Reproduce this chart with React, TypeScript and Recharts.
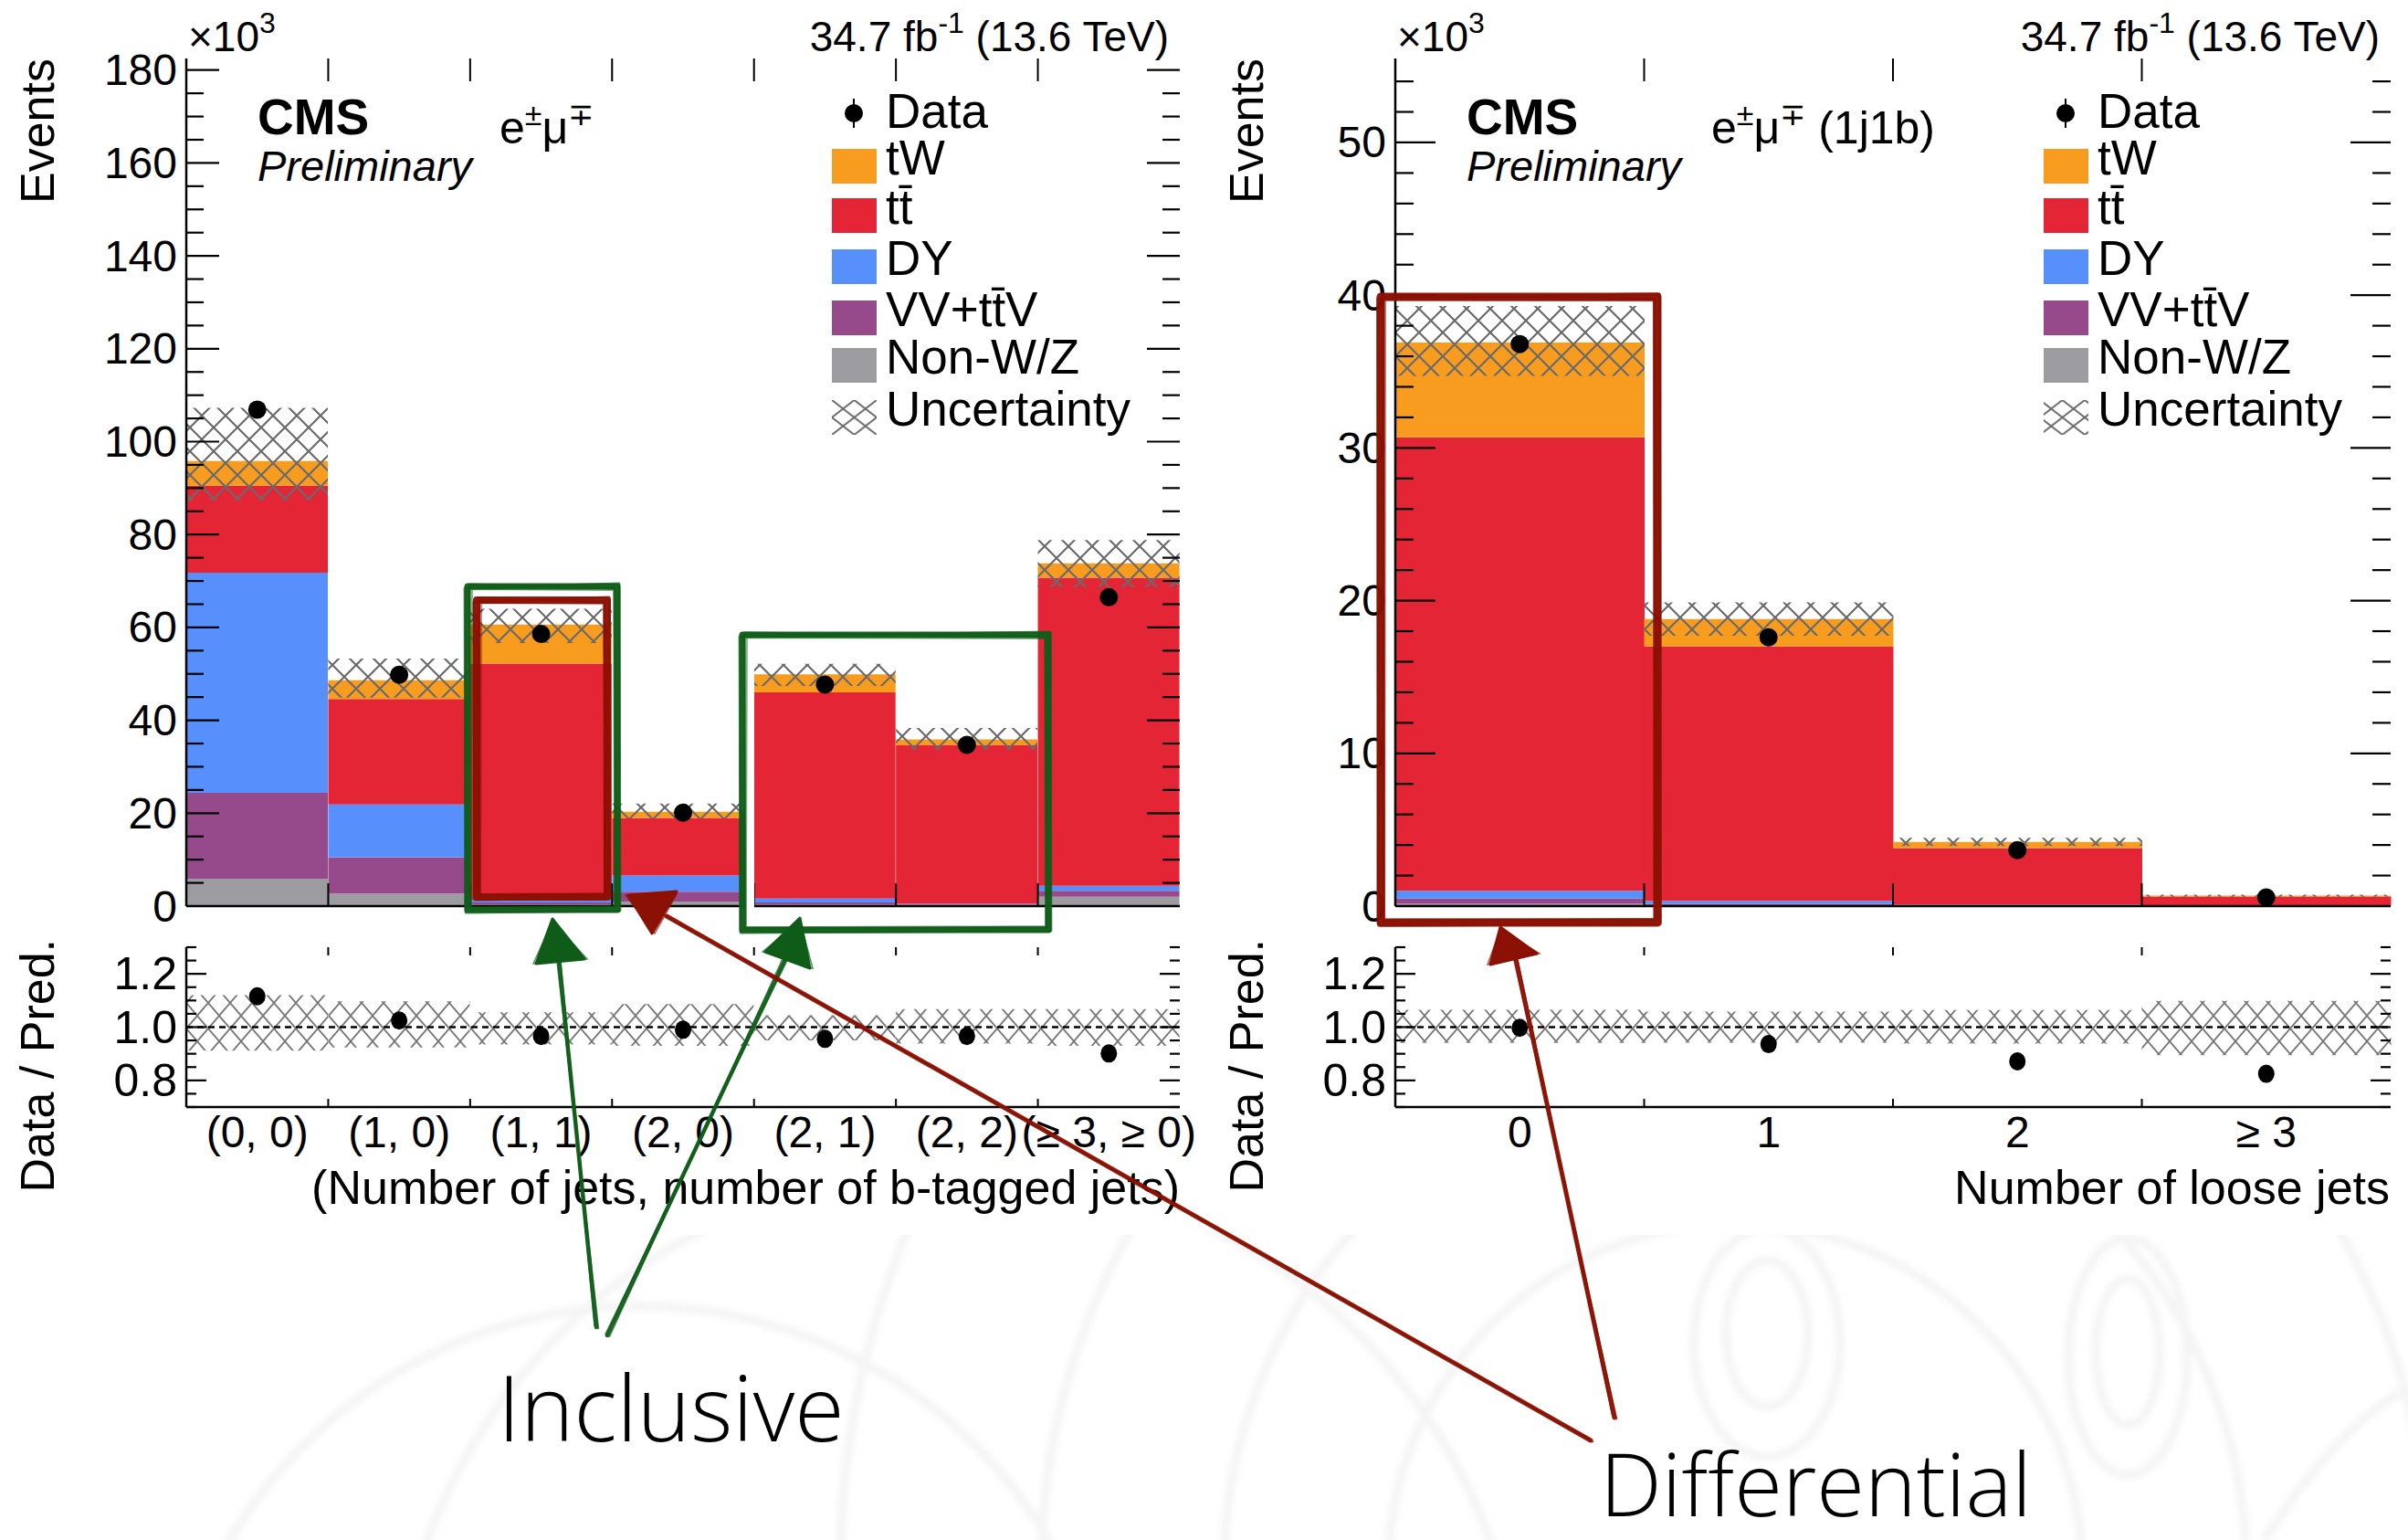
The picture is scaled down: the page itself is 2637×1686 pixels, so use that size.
import React from 'react';
import { ComposedChart, Bar, Scatter, XAxis, YAxis, ReferenceLine } from 'recharts';

const FONT = "'Liberation Sans', Arial, Helvetica, sans-serif";
const SLIDE_FONT = "'Open Sans', Lato, 'Noto Sans', sans-serif";

const C_TW = '#f89c20';
const C_TT = '#e42536';
const C_DY = '#5790fc';
const C_VV = '#964a8b';
const C_NONWZ = '#9c9ca1';
const GREEN = '#0e5c18';
const DARKRED = '#8a1103';

// inclusive: (number of jets, number of b-tagged jets), events in 10^3
const incCategories = ['(0, 0)', '(1, 0)', '(1, 1)', '(2, 0)', '(2, 1)', '(2, 2)', '(≥ 3, ≥ 0)'];
const incNonWZ = [5.9, 2.7, 0.3, 1.0, 0.3, 0.1, 2.0];
const incVV = [18.5, 7.8, 0.5, 2.1, 0.5, 0.2, 1.3];
const incDY = [47.4, 11.4, 0.6, 3.5, 0.8, 0.2, 1.1];
const incTT = [18.7, 22.7, 50.8, 12.4, 44.4, 34.1, 66.3];
const incTW = [5.3, 4.0, 8.4, 1.3, 3.9, 1.3, 3.1];
const incData = [106.9, 49.8, 58.6, 20.1, 47.7, 34.7, 66.5];
const incUncUp = [0.12, 0.097, 0.056, 0.087, 0.045, 0.068, 0.068];
const incUncDown = [0.088, 0.076, 0.065, 0.07, 0.05, 0.062, 0.07];

// differential: 1j1b region vs number of loose jets, events in 10^3
const diffCategories = ['0', '1', '2', '≥ 3'];
const diffNonWZ = [0.15, 0.05, 0.02, 0.005];
const diffVV = [0.35, 0.1, 0.03, 0.01];
const diffDY = [0.5, 0.2, 0.05, 0.01];
const diffTT = [29.7, 16.65, 3.7, 0.6];
const diffTW = [6.2, 1.8, 0.4, 0.06];
const diffData = [36.8, 17.6, 3.66, 0.565];
const diffUncUp = [0.065, 0.058, 0.064, 0.099];
const diffUncDown = [0.059, 0.058, 0.062, 0.105];

const incMajor = 20;
const incMinor = 5;
const incTop = 182.5;
const diffMajor = 10;
const diffMinor = 2;
const diffTop = 55.5;
const ratioRange = [0.7, 1.3];

function buildRows(cats, nonwz, vv, dy, tt, tw, data, up, down) {
  return cats.map((label, i) => {
    const pred = nonwz[i] + vv[i] + dy[i] + tt[i] + tw[i];
    return {
      label,
      nonwz: nonwz[i],
      vv: vv[i],
      dy: dy[i],
      tt: tt[i],
      tw: tw[i],
      data: data[i],
      unc: [pred * (1 - down[i]), pred * (1 + up[i])],
      ratio: data[i] / pred,
      runc: [1 - down[i], 1 + up[i]],
    };
  });
}

const incRows = buildRows(incCategories, incNonWZ, incVV, incDY, incTT, incTW, incData, incUncUp, incUncDown);
const diffRows = buildRows(diffCategories, diffNonWZ, diffVV, diffDY, diffTT, diffTW, diffData, diffUncUp, diffUncDown);

function stepTicks(max, step) {
  const out = [];
  for (let v = 0; v <= max + 1e-9; v += step) out.push(Math.round(v * 1000) / 1000);
  return out;
}
const ratioTicks = [0.7, 0.75, 0.8, 0.85, 0.9, 0.95, 1.0, 1.05, 1.1, 1.15, 1.2, 1.25, 1.3];

const LEFT_GEOM = { left: 0, width: 1320, axisW: 204, rightPad: 28 };
const RIGHT_GEOM = { left: 1320, width: 1317, axisW: 208, rightPad: 19 };
const frameLine = { stroke: '#000', strokeWidth: 2.5 };

// tick marks drawn inside the frame on both sides, labels outside on the left
function ValueTick(p) {
  const { x, y, payload, plotW, majorLen, minorLen, isMajor, fmt, fontSize } = p;
  const ax = x + 10;
  const major = isMajor(payload.value);
  const len = major ? majorLen : minorLen;
  return (
    <g>
      <line x1={ax} x2={ax + len} y1={y} y2={y} stroke="#000" strokeWidth={2.2} />
      <line x1={ax + plotW - len} x2={ax + plotW} y1={y} y2={y} stroke="#000" strokeWidth={2.2} />
      {major && (
        <text x={x} y={y} textAnchor="end" dominantBaseline="central" fontSize={fontSize} fontFamily={FONT} fill="#000">
          {fmt(payload.value)}
        </text>
      )}
    </g>
  );
}

// bin-edge ticks on bottom and top; optional category label under the bin
function EdgeTick(p) {
  const { x, y, index, bw, plotH, n, len, showLabel, payload } = p;
  const xe = x + bw / 2;
  return (
    <g>
      {index < n - 1 && (
        <>
          <line x1={xe} x2={xe} y1={y} y2={y - len} stroke="#000" strokeWidth={2} />
          <line x1={xe} x2={xe} y1={y - plotH} y2={y - plotH + len} stroke="#000" strokeWidth={2} />
        </>
      )}
      {showLabel && (
        <text x={x} y={y + 44} textAnchor="middle" fontSize={48} fontFamily={FONT} fill="#000">
          {payload.value}
        </text>
      )}
    </g>
  );
}

function MainPanel({ rows, geom, yMax, major, minor, majorLen, minorLen }) {
  const plotW = geom.width - geom.axisW - geom.rightPad;
  const plotH = 1000 - 64 - 8;
  const bw = plotW / rows.length;
  const ticks = stepTicks(yMax, minor);
  const isMajor = (v) => Math.abs(v / major - Math.round(v / major)) < 1e-6;
  return (
    <div style={{ position: 'absolute', left: geom.left, top: 0 }}>
      <ComposedChart
        width={geom.width}
        height={1030}
        data={rows}
        margin={{ top: 64, right: geom.rightPad, bottom: 30, left: 0 }}
        barCategoryGap={0}
        barGap={0}
      >
        <XAxis
          dataKey="label"
          interval={0}
          height={8}
          tickSize={0}
          tickMargin={0}
          tickLine={false}
          axisLine={frameLine}
          tick={(p) => <EdgeTick {...p} bw={bw} plotH={plotH} n={rows.length} len={25} showLabel={false} />}
        />
        <XAxis xAxisId="top" orientation="top" dataKey="label" height={0} tick={false} tickLine={false} axisLine={frameLine} />
        <YAxis
          width={geom.axisW}
          domain={[0, yMax]}
          ticks={ticks}
          interval={0}
          tickSize={0}
          tickMargin={10}
          tickLine={false}
          axisLine={frameLine}
          tick={(p) => (
            <ValueTick {...p} plotW={plotW} majorLen={majorLen} minorLen={minorLen} isMajor={isMajor} fmt={(v) => String(v)} fontSize={48} />
          )}
        />
        <YAxis yAxisId="r" orientation="right" width={0} tick={false} tickLine={false} axisLine={frameLine} />
        <Bar dataKey="nonwz" stackId="mc" fill={C_NONWZ} isAnimationActive={false} />
        <Bar dataKey="vv" stackId="mc" fill={C_VV} isAnimationActive={false} />
        <Bar dataKey="dy" stackId="mc" fill={C_DY} isAnimationActive={false} />
        <Bar dataKey="tt" stackId="mc" fill={C_TT} isAnimationActive={false} />
        <Bar dataKey="tw" stackId="mc" fill={C_TW} isAnimationActive={false} />
        <Bar xAxisId="top" dataKey="unc" fill="url(#hatchMain)" isAnimationActive={false} />
        <Scatter dataKey="data" isAnimationActive={false} shape={(s) => <circle cx={s.cx} cy={s.cy} r={10} fill="#000" />} />
      </ComposedChart>
    </div>
  );
}

function RatioPanel({ rows, geom }) {
  const plotW = geom.width - geom.axisW - geom.rightPad;
  const plotH = 340 - 37 - 128;
  const bw = plotW / rows.length;
  const isMajor = (v) => Math.round(v * 100) % 20 === 0;
  return (
    <div style={{ position: 'absolute', left: geom.left, top: 1000 }}>
      <ComposedChart
        width={geom.width}
        height={340}
        data={rows}
        margin={{ top: 37, right: geom.rightPad, bottom: 0, left: 0 }}
        barCategoryGap={0}
        barGap={0}
      >
        <XAxis
          dataKey="label"
          interval={0}
          height={128}
          tickSize={0}
          tickMargin={0}
          tickLine={false}
          axisLine={frameLine}
          tick={(p) => <EdgeTick {...p} bw={bw} plotH={plotH} n={rows.length} len={9} showLabel />}
        />
        <XAxis xAxisId="top" orientation="top" dataKey="label" height={0} tick={false} tickLine={false} axisLine={frameLine} />
        <YAxis
          width={geom.axisW}
          domain={ratioRange}
          ticks={ratioTicks}
          interval={0}
          tickSize={0}
          tickMargin={10}
          tickLine={false}
          axisLine={frameLine}
          allowDataOverflow
          tick={(p) => (
            <ValueTick {...p} plotW={plotW} majorLen={22} minorLen={11} isMajor={isMajor} fmt={(v) => v.toFixed(1)} fontSize={50} />
          )}
        />
        <YAxis yAxisId="r" orientation="right" width={0} tick={false} tickLine={false} axisLine={frameLine} />
        <Bar xAxisId="top" dataKey="runc" fill="url(#hatchRatio)" isAnimationActive={false} />
        <ReferenceLine y={1} stroke="#000" strokeWidth={2.5} strokeDasharray="7 5" />
        <Scatter dataKey="ratio" isAnimationActive={false} shape={(s) => <ellipse cx={s.cx} cy={s.cy} rx={9} ry={10} fill="#000" />} />
      </ComposedChart>
    </div>
  );
}

const legendBaselines = [140, 191, 245, 301, 357, 409, 466];
const legendEntries = [
  { name: 'Data', fill: '' },
  { name: 'tW', fill: C_TW },
  { name: 'tt\u0304', fill: C_TT },
  { name: 'DY', fill: C_DY },
  { name: 'VV+tt\u0304V', fill: C_VV },
  { name: 'Non-W/Z', fill: C_NONWZ },
  { name: 'Uncertainty', fill: 'url(#hatchLegend)' },
];

function Legend({ x }) {
  return (
    <g>
      {legendEntries.map((e, i) => {
        const b = legendBaselines[i];
        return (
          <g key={e.name}>
            {e.fill === '' ? (
              <g>
                <line x1={x + 24} x2={x + 24} y1={b - 32} y2={b} stroke="#000" strokeWidth={2} />
                <circle cx={x + 24} cy={b - 16} r={10} fill="#000" />
              </g>
            ) : (
              <rect x={x} y={b - 28} width={49} height={38} fill={e.fill} />
            )}
            <text x={x + 59} y={b} fontSize={53} fontFamily={FONT} fill="#000">
              {e.name}
            </text>
          </g>
        );
      })}
    </g>
  );
}

function Header({ x0, x1 }) {
  return (
    <g fontFamily={FONT} fill="#000">
      <text x={x0} y={56} fontSize={46}>
        ×10<tspan fontSize={32} dy={-20}>3</tspan>
      </text>
      <text x={x1} y={56} fontSize={46} textAnchor="end">
        34.7 fb<tspan fontSize={32} dy={-20}>-1</tspan>
        <tspan dy={20}> (13.6 TeV)</tspan>
      </text>
    </g>
  );
}

function Labels({ cmsX, chanX, axisX, chan }) {
  return (
    <g fontFamily={FONT} fill="#000">
      <text x={cmsX} y={147} fontSize={55} fontWeight="bold">CMS</text>
      <text x={cmsX} y={198} fontSize={47} fontStyle="italic">Preliminary</text>
      <text x={chanX} y={157} fontSize={50}>
        e<tspan fontSize={34} dy={-20}>±</tspan>
        <tspan dy={20}>μ</tspan>
        <tspan fontSize={34} dy={-20}>∓</tspan>
        <tspan dy={20}>{chan}</tspan>
      </text>
      <text transform={`translate(${axisX},64) rotate(-90)`} textAnchor="end" fontSize={52}>Events</text>
      <text transform={`translate(${axisX},1028) rotate(-90)`} textAnchor="end" fontSize={52}>Data / Pred.</text>
    </g>
  );
}

// hand-drawn style strokes: a main stroke plus a few offset thinner passes
const ROUGH = [
  [0, 0, 0, 0, 0, 0, 0, 0],
  [-3, 2, 2, -3, 3, 1, -2, 3],
  [2, -2, -3, 2, -1, -3, 3, -1],
  [5, 3, -4, 4, -3, -4, 4, -3],
];
const ROUGH_W = [1, 0.4, 0.4, 0.25];
const ROUGH_O = [0.95, 0.7, 0.7, 0.5];

function RoughRect({ x1, y1, x2, y2, color, w }) {
  return (
    <g>
      {ROUGH.map((o, k) => (
        <path
          key={k}
          d={`M${x1 + o[0]} ${y1 + o[1]} L${x2 + o[2]} ${y1 + o[3]} L${x2 + o[4]} ${y2 + o[5]} L${x1 + o[6]} ${y2 + o[7]} Z`}
          fill="none"
          stroke={color}
          strokeWidth={w * ROUGH_W[k]}
          strokeOpacity={ROUGH_O[k]}
          strokeLinejoin="round"
        />
      ))}
    </g>
  );
}

function RoughArrow({ from, to, head, color, w }) {
  const offs = [[0, 0], [2.5, 1.5], [-2, -1.5]];
  return (
    <g>
      {offs.map((o, k) => (
        <line
          key={k}
          x1={from[0] + o[0]}
          y1={from[1] + o[1]}
          x2={to[0] - o[0]}
          y2={to[1] - o[1]}
          stroke={color}
          strokeWidth={k === 0 ? w : w * 0.35}
          strokeOpacity={k === 0 ? 0.95 : 0.7}
          strokeLinecap="round"
        />
      ))}
      <polygon points={head.map((q) => q.join(',')).join(' ')} fill={color} stroke={color} strokeWidth={3} strokeLinejoin="round" />
      <polygon
        points={head.map((q, i) => `${q[0] + (i - 1) * 3},${q[1] + (i % 2) * 3}`).join(' ')}
        fill="none"
        stroke={color}
        strokeWidth={1.5}
        strokeOpacity={0.7}
      />
    </g>
  );
}

function Watermark() {
  return (
    <svg width={2637} height={1686} style={{ position: 'absolute', left: 0, top: 0 }}>
      <defs>
        <clipPath id="wmClip">
          <rect x={0} y={1352} width={2637} height={334} />
        </clipPath>
        <filter id="wmBlur">
          <feGaussianBlur stdDeviation={3} />
        </filter>
      </defs>
      <g clipPath="url(#wmClip)" fill="none" stroke="#ebebeb" strokeWidth={10} filter="url(#wmBlur)" opacity={0.5}>
        <circle cx={1900} cy={1720} r={380} />
        <circle cx={1900} cy={1720} r={560} />
        <circle cx={1900} cy={1720} r={760} />
        <circle cx={1900} cy={1720} r={980} />
        <circle cx={1050} cy={1900} r={620} />
        <circle cx={700} cy={1950} r={520} />
        <ellipse cx={1935} cy={1470} rx={80} ry={125} />
        <ellipse cx={1935} cy={1460} rx={45} ry={80} />
        <ellipse cx={2330} cy={1485} rx={65} ry={130} />
        <ellipse cx={2330} cy={1480} rx={35} ry={80} />
        <path d="M2480 1686 Q2560 1560 2637 1520" />
      </g>
    </svg>
  );
}

function Overlay() {
  return (
    <svg width={2637} height={1686} style={{ position: 'absolute', left: 0, top: 0, pointerEvents: 'none' }}>
      <Header x0={206} x1={1280} />
      <Header x0={1530} x1={2606} />
      <Labels cmsX={282} chanX={547} axisX={59} chan="" />
      <Labels cmsX={1606} chanX={1874} axisX={1383} chan=" (1j1b)" />
      <Legend x={911} />
      <Legend x={2238} />
      <g fontFamily={FONT} fontSize={52} fill="#000" textAnchor="end">
        <text x={1292} y={1318}>(Number of jets, number of b-tagged jets)</text>
        <text x={2617} y={1318}>Number of loose jets</text>
      </g>

      {/* annotation boxes */}
      <line x1={821} y1={702} x2={821} y2={1010} stroke="#fff" strokeWidth={10} />
      <RoughRect x1={512} y1={642} x2={676} y2={996} color={GREEN} w={7} />
      <RoughRect x1={522} y1={657} x2={665} y2={982} color={DARKRED} w={8} />
      <RoughRect x1={813} y1={695} x2={1148} y2={1018} color={GREEN} w={7} />
      <RoughRect x1={1512} y1={325} x2={1815} y2={1010} color={DARKRED} w={9} />

      {/* arrows */}
      <RoughArrow from={[653, 1453]} to={[612, 1050]} head={[[587, 1055], [605, 1006], [640, 1050]]} color={GREEN} w={4.5} />
      <RoughArrow from={[665, 1462]} to={[860, 1050]} head={[[838, 1042], [876, 1005], [887, 1060]]} color={GREEN} w={4.5} />
      <RoughArrow from={[1742, 1577]} to={[730, 1003]} head={[[688, 980], [741, 976], [714, 1022]]} color={DARKRED} w={5} />
      <RoughArrow from={[1768, 1552]} to={[1660, 1050]} head={[[1632, 1056], [1643, 1015], [1683, 1044]]} color={DARKRED} w={5} />

      <g fontFamily={SLIDE_FONT} fontWeight={300} fill="#000">
        <text x={545} y={1578} fontSize={99}>Inclusive</text>
        <text x={1752} y={1660} fontSize={96}>Differential</text>
      </g>
    </svg>
  );
}

export default function App() {
  return (
    <div style={{ position: 'absolute', left: 0, top: 0, width: 2637, height: 1686, background: '#fff', overflow: 'hidden' }}>
      <svg width={0} height={0} style={{ position: 'absolute' }}>
        <defs>
          <pattern id="hatchMain" width={26} height={26} patternUnits="userSpaceOnUse">
            <path d="M0 0 L26 26 M26 0 L0 26" stroke="#6a6a6a" strokeWidth={2.2} />
          </pattern>
          <pattern id="hatchRatio" width={24} height={28} patternUnits="userSpaceOnUse">
            <path d="M0 0 L24 28 M24 0 L0 28" stroke="#777" strokeWidth={1.8} />
          </pattern>
          <pattern id="hatchLegend" width={24.5} height={19} patternUnits="userSpaceOnUse" x={911} y={438}>
            <path d="M0 0 L24.5 19 M24.5 0 L0 19" stroke="#6a6a6a" strokeWidth={2} />
          </pattern>
        </defs>
      </svg>
      <Watermark />
      <MainPanel rows={incRows} geom={LEFT_GEOM} yMax={incTop} major={incMajor} minor={incMinor} majorLen={36} minorLen={19} />
      <MainPanel rows={diffRows} geom={RIGHT_GEOM} yMax={diffTop} major={diffMajor} minor={diffMinor} majorLen={44} minorLen={20} />
      <RatioPanel rows={incRows} geom={LEFT_GEOM} />
      <RatioPanel rows={diffRows} geom={RIGHT_GEOM} />
      <Overlay />
    </div>
  );
}
